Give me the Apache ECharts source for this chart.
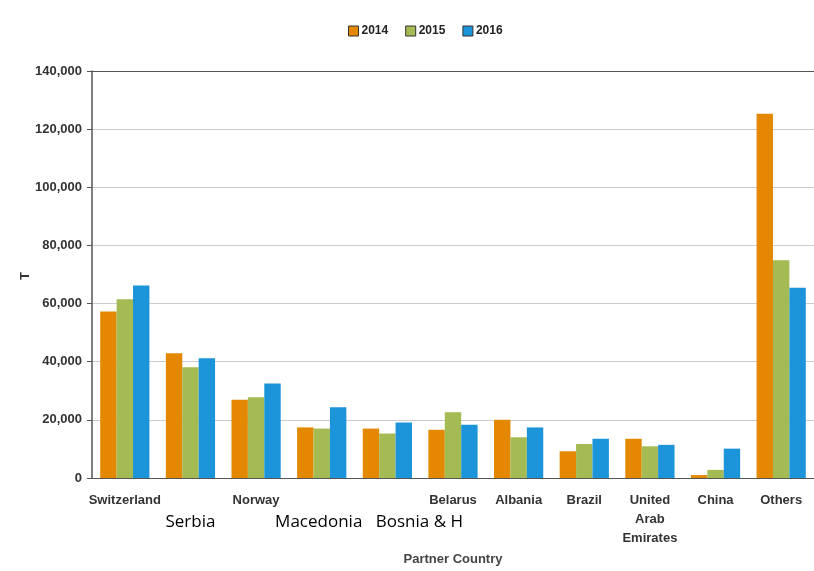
<!DOCTYPE html>
<html>
<head>
<meta charset="utf-8">
<script src="https://cdn.jsdelivr.net/npm/echarts@6/dist/echarts.min.js"></script>
<style>
html,body{margin:0;padding:0;background:#fff;}
#chart{width:814px;height:571px;}
</style>
</head>
<body>
<div id="chart"></div>
<script>
// Partner countries on the x axis
var countries = ['Switzerland', 'Serbia', 'Norway', 'Macedonia', 'Bosnia & H', 'Belarus', 'Albania', 'Brazil', 'United Arab Emirates', 'China', 'Others'];
// Series names
var years = ['2014', '2015', '2016'];
// Tonnes per partner country and year
var values2014 = [57300, 42900, 26900, 17400, 17000, 16600, 20000, 9200, 13500, 1000, 125300];
var values2015 = [61500, 38100, 27800, 17000, 15300, 22600, 14000, 11700, 10900, 2800, 74900];
var values2016 = [66200, 41200, 32500, 24300, 19100, 18300, 17400, 13500, 11400, 10100, 65400];
// Countries whose labels are set in the larger plain style
var plainLabels = ['Serbia', 'Macedonia', 'Bosnia & H'];
// Unit shown beside the value axis
var unitLabel = 'T';

var colors = ['#E38800', '#A4BA52', '#1C94DA'];
var boldFont = 'Liberation Sans, Arial, sans-serif';
var plainFont = 'Open Sans, sans-serif';

var chart = echarts.init(document.getElementById('chart'));

function barSeries(name, data, color) {
  return {
    name: name,
    type: 'bar',
    data: data,
    barGap: '0%',
    barCategoryGap: '25%',
    itemStyle: { color: color },
    emphasis: { disabled: true }
  };
}

function plainStyle(padding) {
  return { fontFamily: plainFont, fontWeight: 'normal', fontSize: 17, color: '#000', lineHeight: 22, padding: padding };
}

chart.setOption({
  animation: false,
  legend: {
    top: 20,
    left: 343,
    itemWidth: 10,
    itemHeight: 10,
    itemGap: 17,
    icon: 'rect',
    itemStyle: { borderColor: '#333', borderWidth: 1 },
    textStyle: { fontFamily: boldFont, fontWeight: 'bold', fontSize: 12, color: '#222', padding: [0, 0, 0, -2] },
    data: years
  },
  grid: { left: 92, top: 71, width: 726, bottom: 90, containLabel: false },
  // unit title, rotated, left of the value axis
  graphic: [{
    type: 'text',
    x: 25,
    y: 276,
    rotation: Math.PI / 2,
    style: {
      text: unitLabel,
      fontFamily: boldFont,
      fontWeight: 'bold',
      fontSize: 13,
      fill: '#333',
      align: 'center',
      verticalAlign: 'middle'
    }
  }],
  xAxis: {
    type: 'category',
    data: countries,
    name: 'Partner Country',
    nameLocation: 'middle',
    nameGap: 75,
    nameTextStyle: { fontFamily: boldFont, fontWeight: 'bold', fontSize: 13, color: '#444' },
    axisLine: { lineStyle: { color: '#555', width: 1 } },
    axisTick: {
      alignWithLabel: true,
      length: 5,
      lineStyle: { color: '#555' },
      interval: function (index, value) { return plainLabels.indexOf(value) < 0; }
    },
    axisLabel: {
      interval: 0,
      margin: 13,
      fontFamily: boldFont,
      fontWeight: 'bold',
      fontSize: 13,
      lineHeight: 19,
      color: '#333',
      formatter: function (value) {
        if (value === 'Bosnia & H') return '{bos|' + value + '}';
        if (value === 'Macedonia') return '{mac|' + value + '}';
        if (plainLabels.indexOf(value) >= 0) return '{plain|' + value + '}';
        return value.split(' ').join('\n');
      },
      rich: {
        plain: plainStyle([40, 0, 0, 0]),
        mac: plainStyle([40, 6, 0, 0]),
        bos: plainStyle([40, 0, 0, 64])
      }
    }
  },
  yAxis: {
    type: 'value',
    min: 0,
    max: 140000,
    interval: 20000,
    axisLine: { show: true, lineStyle: { color: '#555', width: 1.5 } },
    axisTick: { show: true, length: 5, lineStyle: { color: '#555' } },
    axisLabel: {
      margin: 10,
      fontFamily: boldFont,
      fontWeight: 'bold',
      fontSize: 13,
      color: '#333',
      formatter: function (v) { return v.toLocaleString('en-US'); }
    },
    splitLine: {
      lineStyle: { color: ['#ccc', '#ccc', '#ccc', '#ccc', '#ccc', '#ccc', '#ccc', '#555'], width: 1 }
    }
  },
  series: [
    barSeries(years[0], values2014, colors[0]),
    barSeries(years[1], values2015, colors[1]),
    barSeries(years[2], values2016, colors[2])
  ]
});
</script>
</body>
</html>
